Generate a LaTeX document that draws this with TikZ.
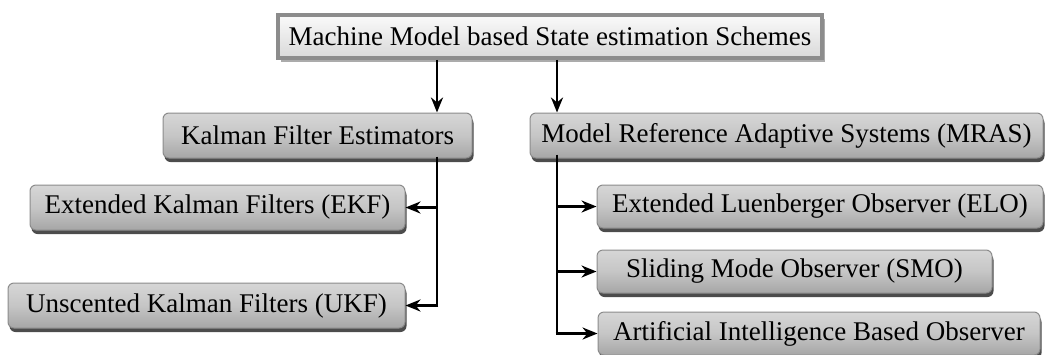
\documentclass[tikz,border=0pt]{standalone}
\usepackage{fontspec}
\setmainfont{Liberation Serif}
\usetikzlibrary{arrows.meta,shadows}
\begin{document}
\begin{tikzpicture}[x=1pt,y=-1pt,
  every node/.style={font=\fontsize{27}{30}\selectfont, inner sep=0pt},
  subbox/.style={draw=gray!90, line width=1pt, rounded corners=6pt,
    top color=gray!32, bottom color=gray!70, middle color=gray!45,
    minimum height=45pt,
    drop shadow={shadow xshift=1.5pt, shadow yshift=-4pt, fill=black!70, opacity=1}},
  topbox/.style={draw=gray!90, line width=3.5pt,
    top color=white!96!gray, bottom color=gray!30,
    minimum height=43pt,
    drop shadow={shadow xshift=2.5pt, shadow yshift=-4pt, fill=black!33, opacity=1}},
  arr/.style={line width=2.8pt, -{Stealth[length=15pt,width=12pt]}},
  trunk/.style={line width=2.8pt}]
\useasboundingbox (0,0) rectangle (1046,354);
\node[topbox, minimum width=544pt] (top) at (550,36.5) {Machine Model based State estimation Schemes};
\node[subbox, minimum width=309pt] (kal) at (317.5,135.5) {Kalman Filter Estimators};
\node[subbox, minimum width=513pt] (mras) at (786.5,135.5) {Model Reference Adaptive Systems (MRAS)};
\node[subbox, minimum width=375pt] (ekf) at (217.5,207.5) {Extended Kalman Filters (EKF)};
\node[subbox, minimum width=397pt] (ukf) at (206.5,305.5) {Unscented Kalman Filters (UKF)};
\node[subbox, minimum width=446pt, minimum height=43pt] (elo) at (820,206.5) {Extended Luenberger Observer (ELO)};
\node[subbox, minimum width=395pt, minimum height=43pt] (smo) at (794.5,271.5) {Sliding Mode Observer (SMO)};
\node[subbox, minimum width=442pt, minimum height=43pt] (ai) at (819,333.5) {Artificial Intelligence Based Observer};
\coordinate (kx) at (437,0);
\coordinate (mx) at (557,0);
\draw[arr] (top.south -| kx) -- (kal.north -| kx);
\draw[arr] (top.south -| mx) -- (mras.north -| mx);
\draw[trunk] ([yshift=2pt]kal.south -| kx) -- (kx |- ukf.east);
\draw[arr] (kx |- ekf.east) -- (ekf.east);
\draw[arr] ([xshift=1.4pt]kx |- ukf.east) -- (ukf.east);
\draw[trunk] ([yshift=4pt]mras.south -| mx) -- (mx |- ai.west);
\draw[arr] (mx |- elo.west) -- (elo.west);
\draw[arr] (mx |- smo.west) -- (smo.west);
\draw[arr] ([xshift=-1.4pt]mx |- ai.west) -- (ai.west);
\end{tikzpicture}
\end{document}
